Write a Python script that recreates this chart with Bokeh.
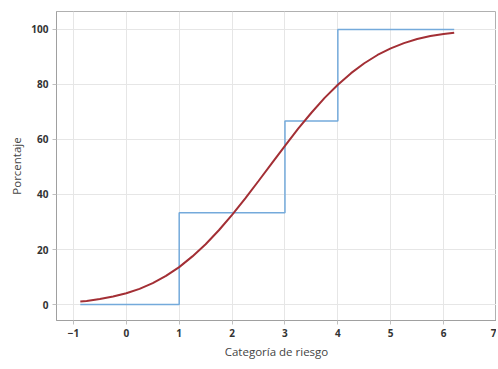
from bokeh.plotting import figure
from bokeh.embed import file_html
from bokeh.resources import INLINE
from bokeh.models import Range1d, FixedTicker

# Empirical step (blue)
step_x = [-0.87, 1, 1, 3, 3, 4, 4, 6.2]
step_y = [0, 0, 33.33, 33.33, 66.67, 66.67, 100, 100]

# Fitted smooth curve (red)
curve_x = [-0.87, -0.75, -0.5, -0.25, 0, 0.25, 0.5, 0.75, 1.0, 1.25, 1.5, 1.75, 2.0, 2.25,
           2.5, 2.75, 3.0, 3.25, 3.5, 3.75, 4.0, 4.25, 4.5, 4.75, 5.0, 5.25, 5.5, 5.75, 6.0, 6.2]
curve_y = [1.1, 1.3, 2.0, 2.9, 4.1, 5.7, 7.8, 10.4, 13.6, 17.5, 21.9, 27.0, 32.6, 38.6,
           44.9, 51.3, 57.7, 63.9, 69.7, 75.1, 79.9, 84.1, 87.7, 90.7, 93.1, 95.0, 96.5, 97.6, 98.3, 98.8]

x_ticks = [-1, 0, 1, 2, 3, 4, 5, 6, 7]
y_ticks = [0, 20, 40, 60, 80, 100]

p = figure(width=496, height=361, output_backend="svg", toolbar_location=None,
           x_range=Range1d(-1.32, 7.0), y_range=Range1d(-5.8, 106.5),
           min_border_left=56, min_border_right=0, min_border_top=11, min_border_bottom=30)

p.line(step_x, step_y, line_color="#74aadb", line_width=1.5)
p.line(curve_x, curve_y, line_color="#a32f35", line_width=2)

font = "Open Sans"
for ax in (p.xaxis[0], p.yaxis[0]):
    ax.axis_line_color = "#a0a0a0"
    ax.major_tick_line_color = "#c0c0c0"
    ax.minor_tick_line_color = None
    ax.major_tick_in = 0
    ax.major_tick_out = 4
    ax.major_label_standoff = 4
    ax.major_label_text_font = font
    ax.major_label_text_font_size = "10px"
    ax.major_label_text_color = "#333333"
    ax.major_label_text_font_style = "bold"
    ax.axis_label_text_font = font
    ax.axis_label_text_font_size = "11.5px"
    ax.axis_label_text_font_style = "normal"
    ax.axis_label_text_color = "#444444"

p.xaxis.ticker = FixedTicker(ticks=x_ticks)
p.yaxis.ticker = FixedTicker(ticks=y_ticks)
p.xaxis.axis_label = "Categoría de riesgo"
p.yaxis.axis_label = "Porcentaje"
p.xaxis.axis_label_standoff = 4
p.yaxis.axis_label_standoff = 4

p.xgrid.grid_line_color = "#e6e6e6"
p.ygrid.grid_line_color = "#e6e6e6"
p.outline_line_color = "#b0b0b0"
p.background_fill_color = "white"
p.border_fill_color = "white"

open("out.html", "w").write(file_html(p, INLINE))
